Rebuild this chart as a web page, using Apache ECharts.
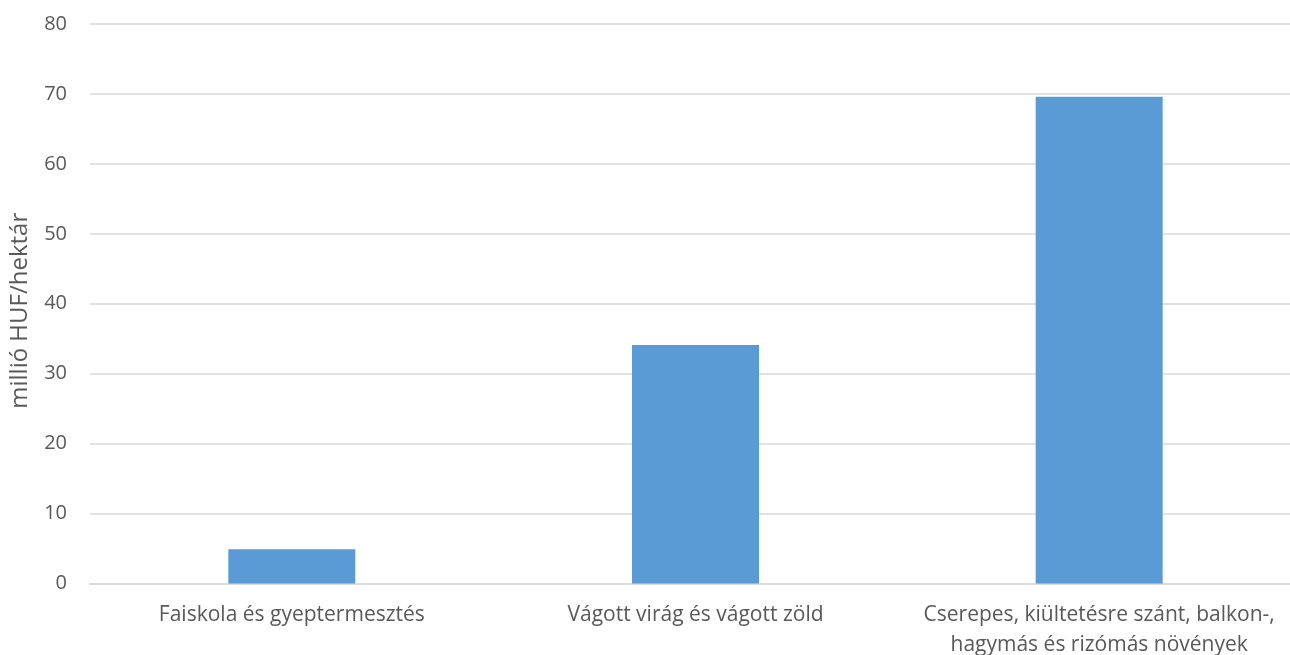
<!DOCTYPE html>
<html>
<head>
<meta charset="utf-8">
<script src="https://cdn.jsdelivr.net/npm/echarts@6/dist/echarts.min.js"></script>
<style>html,body{margin:0;padding:0;background:#fff;}#c{width:1290px;height:655px;}</style>
</head>
<body>
<div id="c"></div>
<script>
const categories = [
  "Faiskola és gyeptermesztés",
  "Vágott virág és vágott zöld",
  "Cserepes, kiültetésre szánt, balkon-,\nhagymás és rizómás növények"
];
const values = [4.9, 34.1, 69.6];
const yAxisName = "millió HUF/hektár";

const chart = echarts.init(document.getElementById('c'));
const font = "'Open Sans', sans-serif";
chart.setOption({
  animation: false,
  grid: { left: 90, top: 24, width: 1211, height: 559.5, containLabel: false, outerBoundsMode: 'none' },
  xAxis: {
    type: 'category',
    data: categories,
    axisLine: { show: true, lineStyle: { color: '#d9d9d9', width: 1.5 } },
    axisTick: { show: false },
    axisLabel: { color: '#595959', fontSize: 21, fontFamily: font, lineHeight: 30, margin: 17, interval: 0 }
  },
  yAxis: {
    type: 'value',
    min: 0, max: 80, interval: 10,
    name: yAxisName,
    nameLocation: 'middle',
    nameGap: 58,
    nameTextStyle: { color: '#595959', fontSize: 24, fontFamily: font, padding: [0, 14, 0, 0] },
    axisLine: { show: false },
    axisTick: { show: false },
    axisLabel: { color: '#595959', fontSize: 20, fontFamily: font, margin: 23 },
    splitLine: { lineStyle: { color: '#d9d9d9', width: 1.5 } }
  },
  series: [{
    type: 'bar',
    data: values,
    barWidth: 127,
    itemStyle: { color: '#5b9bd5' }
  }]
});
</script>
</body>
</html>
